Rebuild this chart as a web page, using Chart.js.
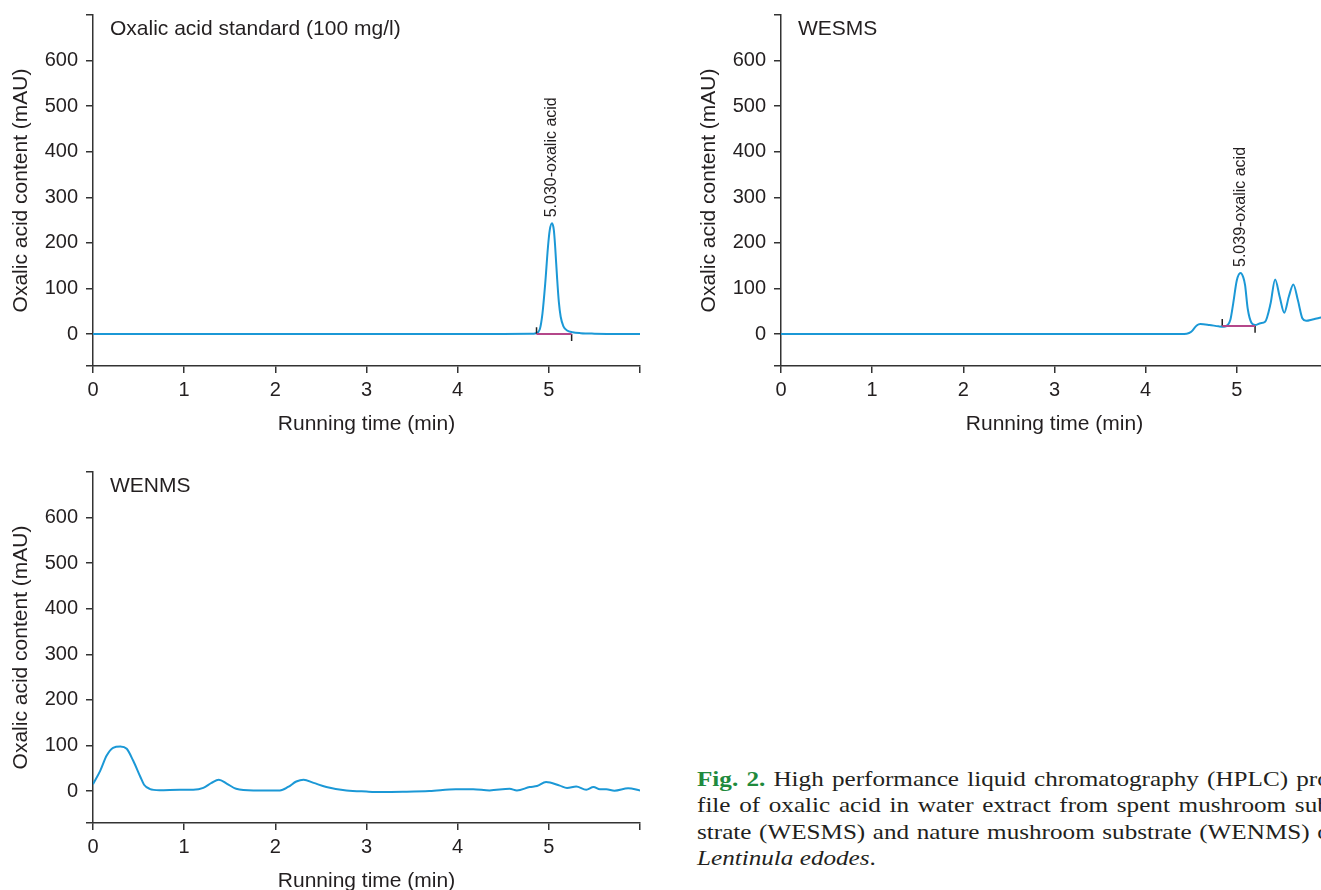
<!DOCTYPE html>
<html>
<head>
<meta charset="utf-8">
<script src="https://cdn.jsdelivr.net/npm/chart.js@4.4.1/dist/chart.umd.min.js"></script>
<style>
  html, body { margin: 0; padding: 0; background: #fff; width: 1321px; height: 890px; overflow: hidden; }
  canvas { position: absolute; }
  #stdChart { left: 0; top: 0; }
  #wesmsChart { left: 688px; top: 0; }
  #wenmsChart { left: 0; top: 457px; }
  .caption {
    position: absolute; left: 697px; top: 766px; width: 548px;
    transform: scaleX(1.17); transform-origin: 0 0;
    font-family: "Liberation Serif", "Times New Roman", serif;
    font-size: 21.5px; line-height: 26.3px; color: #231f20; white-space: nowrap;
  }
  .caption .j { text-align: justify; text-align-last: justify; }
  .caption .fig { color: #1f8a3d; font-weight: bold; }
</style>
</head>
<body>
<canvas id="stdChart" width="660" height="446"></canvas>
<canvas id="wesmsChart" width="660" height="446"></canvas>
<canvas id="wenmsChart" width="660" height="446"></canvas>
<div class="caption">
  <div class="j"><span class="fig">Fig. 2.</span> High performance liquid chromatography (HPLC) pro-</div>
  <div class="j">file of oxalic acid in water extract from spent mushroom sub-</div>
  <div class="j">strate (WESMS) and nature mushroom substrate (WENMS) of</div>
  <div><i>Lentinula edodes</i>.</div>
</div>
<script>
// axis ticks
const xTicks = [0, 1, 2, 3, 4, 5, 6];
const yTicks = [-70, 0, 100, 200, 300, 400, 500, 600, 700];

// oxalic acid standard (100 mg/l)
const stdTime = [0, 4.5, 4.8, 4.86, 4.9, 4.93, 4.96, 4.99, 5.01, 5.035, 5.055, 5.07, 5.09, 5.11, 5.13, 5.16, 5.2, 5.26, 5.35, 5.5, 6];
const stdSignal = [0, 0, 0.5, 2, 10, 45, 110, 190, 228, 243, 228, 190, 125, 70, 38, 17, 8, 4, 2, 1, 0];
const stdPeak = { time: 5.030, height: 243, label: '5.030-oxalic acid' };
const stdIntegration = [4.865, 5.25];
const stdIntegrationLevel = 0;

// WESMS
const wesmsTime = [0, 4.3, 4.45, 4.5, 4.56, 4.6, 4.7, 4.8, 4.86, 4.9, 4.93, 4.96, 5.0, 5.04, 5.07, 5.09, 5.12, 5.16, 5.2, 5.26, 5.31, 5.37, 5.42, 5.47, 5.52, 5.57, 5.62, 5.67, 5.72, 5.76, 5.83, 5.91, 6];
const wesmsSignal = [0, 0, 1, 5, 19, 22, 20, 17, 16, 20, 32, 67, 118, 134, 125, 108, 55, 25, 20, 24, 27, 67, 120, 82, 47, 82, 109, 74, 34, 29, 32, 36, 38];
const wesmsPeak = { time: 5.039, height: 134, label: '5.039-oxalic acid' };
const wesmsIntegration = [4.84, 5.2];
const wesmsIntegrationLevel = 18;

// WENMS
const wenmsTime = [0, 0.08, 0.15, 0.22, 0.3, 0.37, 0.44, 0.52, 0.56, 0.62, 0.73, 0.95, 1.1, 1.21, 1.3, 1.38, 1.47, 1.57, 1.76, 2.05, 2.14, 2.23, 2.31, 2.42, 2.56, 2.78, 3.0, 3.15, 3.4, 3.69, 3.98, 4.17, 4.35, 4.57, 4.65, 4.79, 4.87, 4.97, 5.12, 5.2, 5.3, 5.41, 5.49, 5.56, 5.63, 5.72, 5.87, 6.0];
const wenmsSignal = [15, 45, 78, 95, 98, 93, 67, 31, 14, 5, 2, 3, 3, 7, 18, 25, 16, 5, 1.5, 1.5, 9, 21, 25, 18, 9, 1.5, -1, -2, -1.5, 0, 4, 4, 1.5, 5, 1.5, 9, 11, 20, 12, 7, 10, 3, 9, 4, 4, 1, 6, 1.5];

const traceColor = '#1b98d6';
const integrationColor = '#b4478a';
const axisColor = '#333333';
const textColor = '#231f20';
const fontFamily = '"Liberation Sans", Arial, Helvetica, sans-serif';
const tickMarkSize = 15;

Chart.defaults.font.family = fontFamily;
Chart.defaults.color = textColor;

const panelText = {
  id: 'panelText',
  afterDatasetsDraw(chart, args, opts) {
    const { ctx, chartArea, scales } = chart;
    ctx.save();
    ctx.fillStyle = textColor;
    ctx.font = `21px ${fontFamily}`;
    ctx.textBaseline = 'alphabetic';
    ctx.textAlign = 'left';
    ctx.fillText(opts.title, chartArea.left + 17, chartArea.top + 20);
    if (opts.peak) {
      const px = scales.x.getPixelForValue(opts.peak.time);
      const py = scales.y.getPixelForValue(opts.peak.height);
      ctx.translate(px, py - 6);
      ctx.rotate(-Math.PI / 2);
      ctx.font = `16px ${fontFamily}`;
      ctx.textBaseline = 'middle';
      ctx.fillText(opts.peak.label, 0, 0);
    }
    ctx.restore();
  },
};

function toPoints(times, values) {
  return times.map((t, i) => ({ x: t, y: values[i] }));
}

function integrationSets(bounds, level) {
  const [start, end] = bounds;
  return [
    { data: [{ x: start, y: level }, { x: end, y: level }], borderColor: integrationColor, borderWidth: 2 },
    { data: [{ x: start, y: level }, { x: start, y: level + tickMarkSize }], borderColor: '#222', borderWidth: 1.5 },
    { data: [{ x: end, y: level }, { x: end, y: level - tickMarkSize }], borderColor: '#222', borderWidth: 1.5 },
  ];
}

function makePanel(canvasId, { title, times, values, peak, integration, level }) {
  const datasets = [];
  if (integration) datasets.push(...integrationSets(integration, level));
  datasets.push({
    data: toPoints(times, values),
    borderColor: traceColor,
    borderWidth: 2,
    cubicInterpolationMode: 'monotone',
  });

  return new Chart(document.getElementById(canvasId), {
    type: 'line',
    data: { datasets },
    plugins: [panelText],
    options: {
      responsive: false,
      animation: false,
      devicePixelRatio: 1,
      layout: { padding: { top: 15, right: 20, left: 0, bottom: 0 } },
      elements: { point: { radius: 0 }, line: { fill: false } },
      plugins: {
        legend: { display: false },
        tooltip: { enabled: false },
        panelText: { title, peak },
      },
      scales: {
        x: {
          type: 'linear',
          min: 0,
          max: 6,
          afterBuildTicks: scale => { scale.ticks = xTicks.map(value => ({ value })); },
          afterFit: scale => {
            scale.height = 80;
            scale.paddingLeft = 0;
            scale.paddingRight = 0;
          },
          ticks: {
            autoSkip: false,
            maxRotation: 0,
            padding: 5,
            color: textColor,
            font: { size: 20 },
            callback: value => (value === 6 ? '' : value),
          },
          grid: { drawOnChartArea: false, drawTicks: true, tickLength: 7, color: axisColor, lineWidth: 1.5 },
          border: { display: true, color: axisColor, width: 1.5 },
          title: { display: true, text: 'Running time (min)', color: textColor, font: { size: 21 }, padding: { top: 4, bottom: 9 } },
        },
        y: {
          type: 'linear',
          min: -70,
          max: 700,
          afterBuildTicks: scale => { scale.ticks = yTicks.map(value => ({ value })); },
          afterFit: scale => {
            scale.width = 93;
            scale.paddingTop = 0;
            scale.paddingBottom = 0;
          },
          ticks: {
            autoSkip: false,
            padding: 8,
            color: textColor,
            font: { size: 20 },
            callback: value => (value >= 0 && value <= 600 ? value : ''),
          },
          grid: { drawOnChartArea: false, drawTicks: true, tickLength: 7, color: axisColor, lineWidth: 1.5 },
          border: { display: true, color: axisColor, width: 1.5 },
          title: { display: true, text: 'Oxalic acid content (mAU)', color: textColor, font: { size: 21 }, padding: { top: 9, bottom: 0 } },
        },
      },
    },
  });
}

makePanel('stdChart', {
  title: 'Oxalic acid standard (100 mg/l)',
  times: stdTime,
  values: stdSignal,
  peak: stdPeak,
  integration: stdIntegration,
  level: stdIntegrationLevel,
});

makePanel('wesmsChart', {
  title: 'WESMS',
  times: wesmsTime,
  values: wesmsSignal,
  peak: wesmsPeak,
  integration: wesmsIntegration,
  level: wesmsIntegrationLevel,
});

makePanel('wenmsChart', {
  title: 'WENMS',
  times: wenmsTime,
  values: wenmsSignal,
});
</script>
</body>
</html>
